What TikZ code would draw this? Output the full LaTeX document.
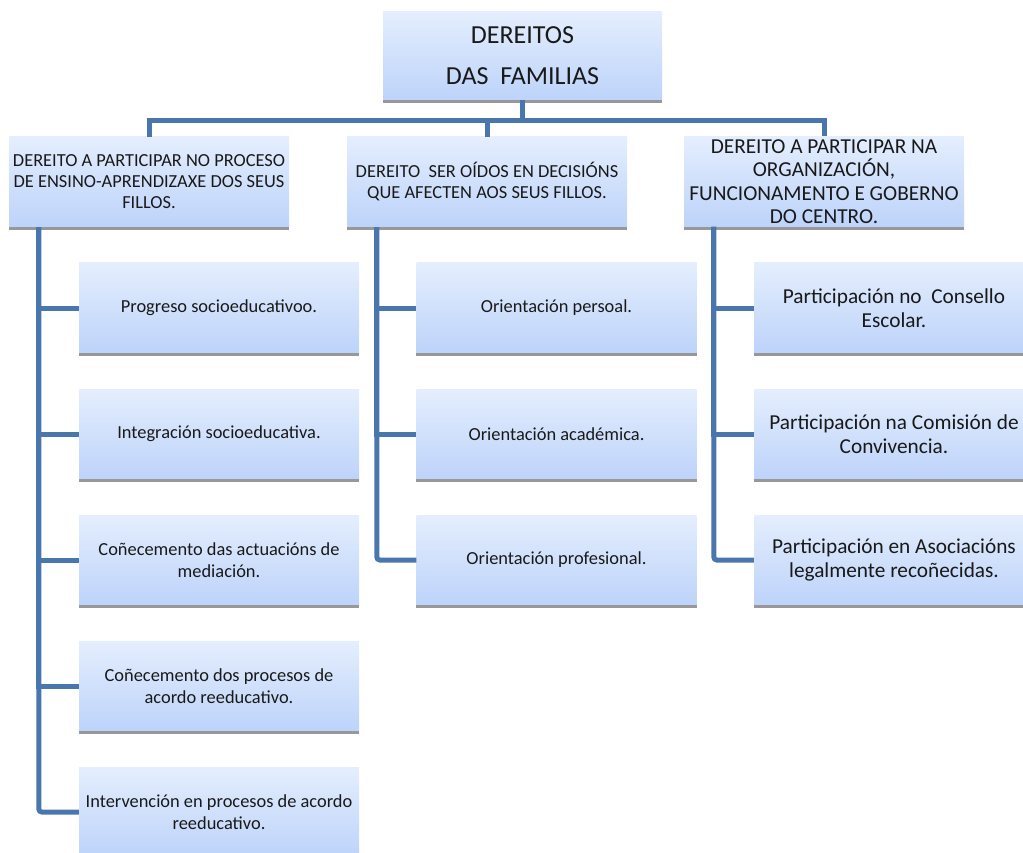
\documentclass[tikz,border=0pt]{standalone}
\usepackage{fontspec}
\setmainfont{Carlito}
\usetikzlibrary{calc}
\definecolor{boxtop}{RGB}{228,238,253}
\definecolor{boxbot}{RGB}{189,211,250}
\definecolor{edgegray}{RGB}{152,152,152}
\definecolor{connblue}{RGB}{74,118,174}
\tikzset{
  box/.style={rectangle, top color=boxtop, bottom color=boxbot, draw=none,
    minimum width=280pt, minimum height=90pt, inner sep=0pt, align=center,
    text=black!90},
  rootfont/.style={font=\fontsize{26}{41}\selectfont},
  lonefont/.style={font=\fontsize{18.4}{21}\selectfont},
  lthreefont/.style={font=\fontsize{21.3}{23.5}\selectfont},
  childfont/.style={font=\fontsize{18.4}{22}\selectfont},
  bigchildfont/.style={font=\fontsize{21.3}{24}\selectfont},
  grayedge/.style={draw=edgegray, line width=3pt},
  conn/.style={draw=connblue, line width=5pt, line join=miter},
}
\begin{document}
\begin{tikzpicture}[x=1pt,y=-1pt]
\useasboundingbox (0,0) rectangle (1023,853);
\clip (0,0) rectangle (1023,853);
% root
\node[box, rootfont, minimum width=279pt, minimum height=88pt] (root) at (522.5,56) {DEREITOS\\DAS\ \ FAMILIAS};
% level 1
\node[box, lonefont] (a) at (149,182) {DEREITO A PARTICIPAR NO PROCESO\\DE ENSINO-APRENDIZAXE DOS SEUS\\FILLOS.};
\node[box, lonefont] (b) at (487,182) {DEREITO\ \ SER OÍDOS EN DECISIÓNS\\QUE AFECTEN AOS SEUS FILLOS.};
\node[box, lthreefont] (c) at (824,181.5) {DEREITO A PARTICIPAR NA\\ORGANIZACIÓN,\\FUNCIONAMENTO E GOBERNO\\DO CENTRO.};
% column 1
\node[box, childfont] (a1) at (219,308) {Progreso socioeducativoo.};
\node[box, childfont] (a2) at (219,434) {Integración socioeducativa.};
\node[box, childfont] (a3) at (219,560) {Coñecemento das actuacións de\\mediación.};
\node[box, childfont] (a4) at (219,686) {Coñecemento dos procesos de\\acordo reeducativo.};
\node[box, childfont] (a5) at (219,812) {Intervención en procesos de acordo\\reeducativo.};
% column 2
\node[box, childfont] (b1) at (556.5,308) {Orientación persoal.};
\node[box, childfont] (b2) at (556.5,434) {Orientación académica.};
\node[box, childfont] (b3) at (556.5,560) {Orientación profesional.};
% column 3
\node[box, bigchildfont] (c1) at (894,308) {Participación no\ \ Consello\\Escolar.};
\node[box, bigchildfont] (c2) at (894,434) {Participación na Comisión de\\Convivencia.};
\node[box, bigchildfont] (c3) at (894,560) {Participación en Asociacións\\legalmente recoñecidas.};
% gray bottom edges
\foreach \n in {root,a,b,c,a1,a2,a3,a4,b1,b2,b3,c1,c2,c3}
  \draw[grayedge] ([yshift=-1.5pt]\n.south west) -- ([yshift=-1.5pt]\n.south east);
% connectors
\coordinate (hub) at ($(root.south)+(0,20)$);
\draw[conn] (root.south) -- (hub);
\draw[conn] (hub) -| (a.north);
\draw[conn] (hub) -| (b.north);
\draw[conn] (hub) -| (c.north);
\foreach \p/\k in {a/a1,a/a2,a/a3,a/a4,b/b1,b/b2,c/c1,c/c2}
  \draw[conn] ([xshift=30pt]\p.south west) |- (\k.west);
\draw[conn, rounded corners=3pt] ([xshift=30pt]a.south west) |- (a5.west);
\draw[conn, rounded corners=3pt] ([xshift=30pt]b.south west) |- (b3.west);
\draw[conn, rounded corners=3pt] ([xshift=30pt]c.south west) |- (c3.west);
\end{tikzpicture}
\end{document}
